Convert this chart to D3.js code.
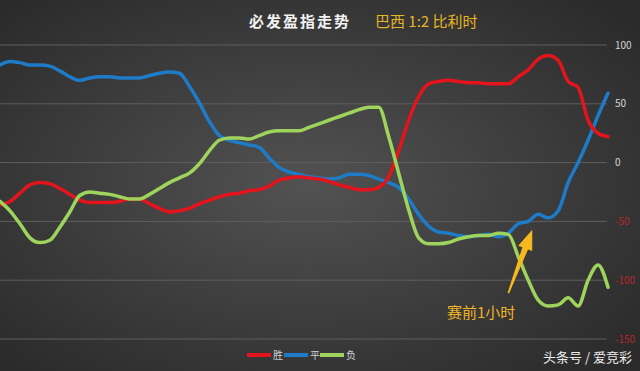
<!DOCTYPE html>
<html>
<head>
<meta charset="utf-8">
<script src="https://cdn.jsdelivr.net/npm/d3@7"></script>
<style>
  body { margin: 0; background: #333; }
  svg { display: block; font-family: "Noto Sans CJK SC", "Noto Sans", sans-serif; }
</style>
</head>
<body>
<div id="chart"></div>
<script>
var svgWidth = 640;
var svgHeight = 371;

// data (one point per step along the x axis)
var winValues = [-36, -33, -26, -19, -17, -18, -22, -27, -32, -34, -34, -34, -33, -31, -31, -35, -39, -42, -41, -39,
  -35, -32, -29, -27, -26, -24, -23, -20, -15, -13, -12, -13, -14, -16, -19, -21, -23, -23, -21, -12,
  10, 36, 56, 67, 69, 70, 69, 68, 68, 67, 67, 67, 73, 79, 88, 91, 87, 69, 64, 36, 25, 22];
var drawValues = [83, 86, 85, 83, 83, 82, 78, 73, 70, 72, 73, 73, 72, 72, 72, 74, 76, 77, 76, 65,
  51, 35, 23, 19, 17, 15, 13, 4, -4, -8, -10, -12, -13, -14, -13, -10, -10, -11, -14, -17,
  -21, -31, -44, -54, -59, -60, -62, -63, -62, -61, -63, -60, -52, -50, -44, -47, -41, -17, 0, 19, 40, 59];
var loseValues = [-33, -41, -52, -64, -68, -66, -55, -42, -28, -25, -26, -27, -29, -31, -31, -27, -22, -17, -13, -9,
  -1, 10, 19, 21, 21, 20, 23, 26, 27, 27, 27, 30, 33, 36, 39, 42, 45, 47, 47, 22,
  -9, -40, -64, -69, -69, -68, -65, -63, -62, -62, -60, -61, -80, -100, -117, -122, -121, -115, -122, -100, -87, -106];
var seriesNames = ["胜", "平", "负"];
var seriesColors = ["#e3141c", "#1e7bc8", "#9fd45c"];
var yTicks = [100, 50, 0, -50, -100, -150];

var svg = d3.select("#chart")
  .append("svg")
  .attr("width", svgWidth)
  .attr("height", svgHeight);

// dark radial background
var grad = svg.append("defs").append("radialGradient")
  .attr("id", "bg")
  .attr("cx", "48%").attr("cy", "50%").attr("r", "68%");
grad.append("stop").attr("offset", "0%").attr("stop-color", "#525252");
grad.append("stop").attr("offset", "100%").attr("stop-color", "#2a2a2a");

svg.append("rect")
  .attr("width", svgWidth)
  .attr("height", svgHeight)
  .attr("fill", "url(#bg)");

var x = d3.scaleLinear()
  .domain([0, winValues.length - 1])
  .range([0, 608]);

var y = d3.scaleLinear()
  .domain([-150, 100])
  .range([339, 45]);

// gridlines + right-side labels
svg.append("g")
  .selectAll("line")
  .data(yTicks)
  .enter()
  .append("line")
  .attr("x1", 0)
  .attr("x2", 607)
  .attr("y1", d => y(d))
  .attr("y2", d => y(d))
  .attr("stroke", "#5f5f5f")
  .attr("stroke-width", 1);

svg.append("g")
  .selectAll("text")
  .data(yTicks)
  .enter()
  .append("text")
  .attr("x", 615)
  .attr("y", d => y(d))
  .attr("dy", "0.35em")
  .style("font-size", "10px")
  .attr("fill", d => d < 0 ? "#b8262a" : "#d6d6d6")
  .text(d => d);

// lines
var line = d3.line()
  .x((d, i) => x(i))
  .y(d => y(d))
  .curve(d3.curveMonotoneX);

var allSeries = [winValues, drawValues, loseValues];
// draw order: blue, red, green
[1, 0, 2].forEach(function(k) {
  svg.append("path")
    .datum(allSeries[k])
    .attr("d", line)
    .attr("fill", "none")
    .attr("stroke", seriesColors[k])
    .attr("stroke-width", 3.5)
    .attr("stroke-linejoin", "round")
    .attr("stroke-linecap", "round");
});

// title
svg.append("text")
  .attr("x", 249)
  .attr("y", 27)
  .style("font-size", "15px")
  .style("font-weight", "bold")
  .style("letter-spacing", "2px")
  .attr("fill", "#f2f2f2")
  .text("必发盈指走势");

svg.append("text")
  .attr("x", 375)
  .attr("y", 27)
  .style("font-size", "15px")
  .attr("fill", "#e6b524")
  .text("巴西 1:2 比利时");

// annotation arrow
var tip = [x(53.4), y(-57)];
var tail = [x(51), y(-111)];
var dx = tip[0] - tail[0], dy = tip[1] - tail[1];
var len = Math.sqrt(dx * dx + dy * dy);
var ang = Math.atan2(dy, dx) * 180 / Math.PI;
var hl = 20;
var arrowPts = [[0, -0.8], [len - hl, -3], [len - hl, -7.5], [len, 0], [len - hl, 7.5], [len - hl, 3], [0, 0.8]];
svg.append("polygon")
  .attr("transform", `translate(${tail[0]},${tail[1]}) rotate(${ang})`)
  .attr("points", arrowPts.map(p => p.join(",")).join(" "))
  .attr("fill", "#f5b81f");

svg.append("text")
  .attr("x", 447)
  .attr("y", 318)
  .style("font-size", "15px")
  .attr("fill", "#f0b424")
  .text("赛前1小时");

// legend
var legendX = [247, 284, 320];
var legend = svg.append("g");
seriesNames.forEach(function(name, i) {
  legend.append("line")
    .attr("x1", legendX[i])
    .attr("x2", legendX[i] + 24)
    .attr("y1", 355)
    .attr("y2", 355)
    .attr("stroke", seriesColors[i])
    .attr("stroke-width", 4);
  legend.append("text")
    .attr("x", legendX[i] + 26)
    .attr("y", 355)
    .attr("dy", "0.35em")
    .style("font-size", "10px")
    .attr("fill", "#d0d0d0")
    .text(name);
});

// watermark
svg.append("text")
  .attr("x", 632)
  .attr("y", 362)
  .attr("text-anchor", "end")
  .style("font-size", "13px")
  .attr("fill", "#ececec")
  .text("头条号 / 爱竞彩");
</script>
</body>
</html>
